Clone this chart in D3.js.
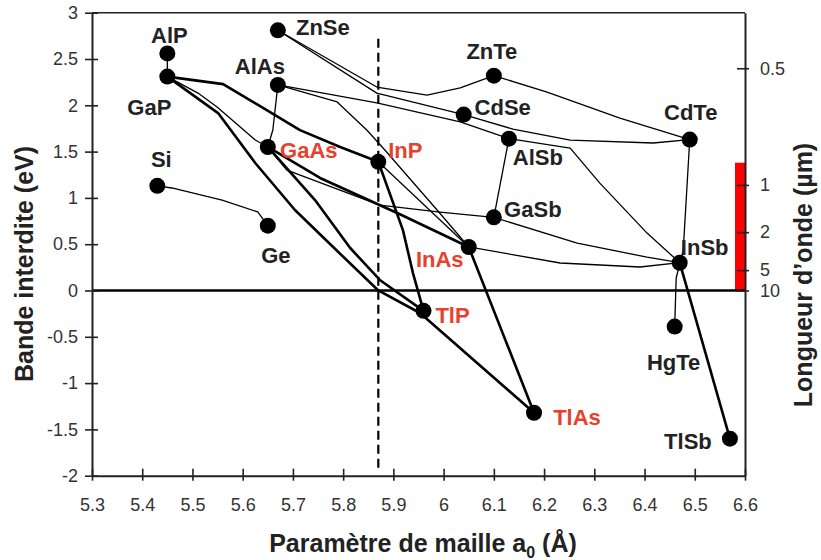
<!DOCTYPE html>
<html>
<head>
<meta charset="utf-8" />
<title>Bande interdite / paramètre de maille</title>
<script type="text/javascript" src="https://d3js.org/d3.v7.min.js"></script>
<style type="text/css">
    body { margin: 0; background: #fff; }
    text { font-family: Arial, "Liberation Sans", sans-serif; }
    .tick text { font-size: 18px; fill: #333; }
    .lbl { font-size: 22px; font-weight: bold; fill: #222; }
    .title { font-size: 25px; font-weight: bold; fill: #222; }
</style>
</head>
<body>
<svg></svg>
<script>
    var w = 821; // width
    var h = 560; // height

    // compounds: lattice parameter a0 (Å) and band gap (eV)
    var compounds = ["AlP", "GaP", "ZnSe", "AlAs", "GaAs", "Si", "Ge", "InP", "ZnTe", "CdSe",
                     "AlSb", "GaSb", "InAs", "CdTe", "InSb", "HgTe", "TlSb", "TlAs", "TlP"];
    var latticeA = [5.45, 5.45, 5.67, 5.67, 5.65, 5.43, 5.65, 5.87, 6.10, 6.04,
                    6.13, 6.10, 6.05, 6.49, 6.47, 6.46, 6.57, 6.18, 5.96];
    var gapE = [2.56, 2.31, 2.81, 2.22, 1.55, 1.13, 0.70, 1.39, 2.32, 1.90,
                1.64, 0.79, 0.47, 1.63, 0.30, -0.39, -1.60, -1.32, -0.22];
    var redCompounds = ["GaAs", "InP", "InAs", "TlP", "TlAs"];

    // alloy lines between two compounds, with the bend points read on the curve [a0, Eg]
    var alloyNames = ["AlP-GaP", "GaP-InP", "GaP-GaAs", "GaP-TlAs", "GaAs-TlP", "InP-TlP",
                      "GaAs-InAs", "GaAs-GaSb", "AlAs-GaAs", "AlAs-InAs", "InP-InAs", "InAs-TlAs",
                      "InAs-InSb", "GaSb-InSb", "AlSb-GaSb", "AlSb-InSb", "AlAs-AlSb", "CdTe-HgTe",
                      "InSb-TlSb", "ZnSe-ZnTe", "ZnSe-CdSe", "ZnTe-CdTe", "CdSe-CdTe", "Si-Ge"];
    var alloyVia = [
        [],
        [[5.561, 2.229], [5.638, 1.980], [5.714, 1.732], [5.794, 1.550]],
        [[5.511, 2.132], [5.549, 1.981], [5.625, 1.625]],
        [[5.551, 1.916], [5.625, 1.377], [5.704, 0.869], [5.778, 0.480], [5.869, 0.005], [5.953, -0.243]],
        [[5.744, 0.977], [5.814, 0.459], [5.873, 0.114]],
        [[5.919, 0.652], [5.939, 0.188]],
        [[5.754, 1.215], [5.913, 0.824]],
        [[5.688, 1.301], [5.873, 0.923], [5.993, 0.846]],
        [[5.660, 1.733]],
        [[5.788, 2.036], [5.847, 1.733], [5.883, 1.517], [5.987, 0.869]],
        [],
        [],
        [[6.232, 0.297], [6.391, 0.254]],
        [[6.266, 0.511], [6.405, 0.360]],
        [],
        [[6.252, 1.538], [6.311, 1.160], [6.405, 0.620]],
        [[5.867, 2.025], [6.033, 1.820]],
        [[6.477, 0.435], [6.463, 0.135]],
        [],
        [[5.867, 2.197], [5.967, 2.111], [6.033, 2.187]],
        [[5.867, 2.132]],
        [[6.206, 2.143], [6.351, 1.862]],
        [[6.138, 1.743], [6.252, 1.625], [6.417, 1.593]],
        [[5.459, 1.107], [5.559, 0.977], [5.630, 0.848]]
    ];
    var thickAlloys = ["GaP-InP", "GaP-TlAs", "GaAs-TlP", "InP-TlP", "GaAs-InAs", "InAs-TlAs", "InSb-TlSb"];

    // axes
    var xTicks = [5.3, 5.4, 5.5, 5.6, 5.7, 5.8, 5.9, 6.0, 6.1, 6.2, 6.3, 6.4, 6.5, 6.6];
    var yTicks = [-2, -1.5, -1, -0.5, 0, 0.5, 1, 1.5, 2, 2.5, 3];
    var wlLabels = ["0.5", "1", "2", "5", "10"];     // wavelength (µm)
    var wlEnergy = [2.40, 1.14, 0.63, 0.22, 0.0];    // where they sit on the eV scale

    var refLattice = 5.87;          // dashed reference (InP)
    var refSpan = [-1.94, 2.72];
    var bandEnergy = [0, 1.38];     // red bar on the right axis

    // label offsets (px) from the dot
    var labelOffset = {
        AlP: [2, -18], GaP: [-18, 31], Si: [4, -26], Ge: [8, 30], ZnSe: [45, -3], AlAs: [-18, -18],
        ZnTe: [-2, -24], CdSe: [39, -7], AlSb: [29, 19], GaSb: [39, -8], CdTe: [1, -27], InSb: [25, -15],
        HgTe: [-1, 36], TlSb: [-42, 3], GaAs: [41, 4], InP: [27, -11], InAs: [-29, 13], TlP: [29, 5], TlAs: [43, 5]
    };

    var svg = d3.select("svg").attr("width", w).attr("height", h);

    var x = d3.scaleLinear().domain([5.3, 6.6]).range([92, 745]);
    var y = d3.scaleLinear().domain([-2, 3]).range([475.7, 12.7]);

    var pos = {};
    compounds.forEach(function(c, i) { pos[c] = [latticeA[i], gapE[i]]; });

    // plain hyphen for negatives, like the original
    var fmt = function(d) { return String(d); };

    // red band on right side
    svg.append("rect")
        .attr("x", x.range()[1] - 10)
        .attr("width", 10)
        .attr("y", y(bandEnergy[1]))
        .attr("height", y(bandEnergy[0]) - y(bandEnergy[1]))
        .attr("fill", "#ff0000");

    // frame top
    svg.append("line")
        .attr("x1", x.range()[0]).attr("x2", x.range()[1])
        .attr("y1", y(3)).attr("y2", y(3))
        .attr("stroke", "#222").attr("stroke-width", 1.5);

    // zero line
    svg.append("line")
        .attr("x1", x.range()[0]).attr("x2", x.range()[1])
        .attr("y1", y(0)).attr("y2", y(0))
        .attr("stroke", "#000").attr("stroke-width", 2.5);

    // dashed reference
    svg.append("line")
        .attr("x1", x(refLattice)).attr("x2", x(refLattice))
        .attr("y1", y(refSpan[1])).attr("y2", y(refSpan[0]))
        .attr("stroke", "#000").attr("stroke-width", 2.2)
        .attr("stroke-dasharray", "9,5");

    // axes (ticks crossing the axis line)
    function crossTicks(g, a, b, vertical) {
        g.selectAll(".tick line").remove();
        g.selectAll(".tick").append("line")
            .attr(vertical ? "y1" : "x1", a)
            .attr(vertical ? "y2" : "x2", b)
            .attr("stroke", "#222").attr("stroke-width", 1.6);
        g.select(".domain").attr("stroke", "#222").attr("stroke-width", 2);
    }

    var gx = svg.append("g")
        .attr("transform", "translate(0," + y(-2) + ")")
        .call(d3.axisBottom(x).tickValues(xTicks).tickSizeOuter(0).tickSize(0).tickPadding(23)
            .tickFormat(fmt));
    crossTicks(gx, -7, 5, true);

    var gy = svg.append("g")
        .attr("transform", "translate(" + x(5.3) + ",0)")
        .call(d3.axisLeft(y).tickValues(yTicks).tickSizeOuter(0).tickSize(0).tickPadding(14)
            .tickFormat(fmt));
    crossTicks(gy, -7, 6, false);

    var gr = svg.append("g")
        .attr("transform", "translate(" + x(6.6) + ",0)")
        .call(d3.axisRight(y).tickValues(wlEnergy).tickSizeOuter(0).tickSize(0).tickPadding(15)
            .tickFormat(function(d, i) { return wlLabels[i]; }));
    crossTicks(gr, -8, 4, false);

    svg.selectAll(".tick text").attr("font-size", null).attr("fill", null);

    // alloy curves
    var line = d3.line().x(function(d) { return x(d[0]); }).y(function(d) { return y(d[1]); });
    var alloys = alloyNames.map(function(n, i) {
        var ends = n.split("-");
        return { name: n, pts: [pos[ends[0]]].concat(alloyVia[i], [pos[ends[1]]]) };
    });

    svg.append("g").selectAll("path")
        .data(alloys)
        .enter()
        .append("path")
        .attr("d", function(d) { return line(d.pts); })
        .attr("fill", "none")
        .attr("stroke", "#000")
        .attr("stroke-linejoin", "round")
        .attr("stroke-width", function(d) { return thickAlloys.indexOf(d.name) >= 0 ? 2.6 : 1.3; });

    // compound dots
    svg.append("g").selectAll("circle")
        .data(compounds)
        .enter()
        .append("circle")
        .attr("cx", function(d) { return x(pos[d][0]); })
        .attr("cy", function(d) { return y(pos[d][1]); })
        .attr("r", 8)
        .attr("fill", "#000");

    // compound labels
    svg.append("g").selectAll("text")
        .data(compounds)
        .enter()
        .append("text")
        .attr("class", "lbl")
        .attr("x", function(d) { return x(pos[d][0]) + labelOffset[d][0]; })
        .attr("y", function(d) { return y(pos[d][1]) + labelOffset[d][1]; })
        .attr("text-anchor", "middle")
        .attr("dominant-baseline", "central")
        .style("fill", function(d) { return redCompounds.indexOf(d) >= 0 ? "#e8402a" : "#222"; })
        .text(function(d) { return d; });

    // axis titles
    var xt = svg.append("text")
        .attr("class", "title")
        .attr("x", 423).attr("y", 552)
        .attr("text-anchor", "middle");
    xt.append("tspan").text("Paramètre de maille a");
    xt.append("tspan").attr("font-size", "16px").attr("dy", 6).text("0");
    xt.append("tspan").attr("dy", -6).text(" (Å)");

    svg.append("text")
        .attr("class", "title")
        .attr("transform", "translate(24,264) rotate(-90)")
        .attr("text-anchor", "middle")
        .attr("dominant-baseline", "central")
        .text("Bande interdite (eV)");

    svg.append("text")
        .attr("class", "title")
        .attr("transform", "translate(803,275) rotate(-90)")
        .attr("text-anchor", "middle")
        .attr("dominant-baseline", "central")
        .text("Longueur d’onde (µm)");
</script>
</body>
</html>
